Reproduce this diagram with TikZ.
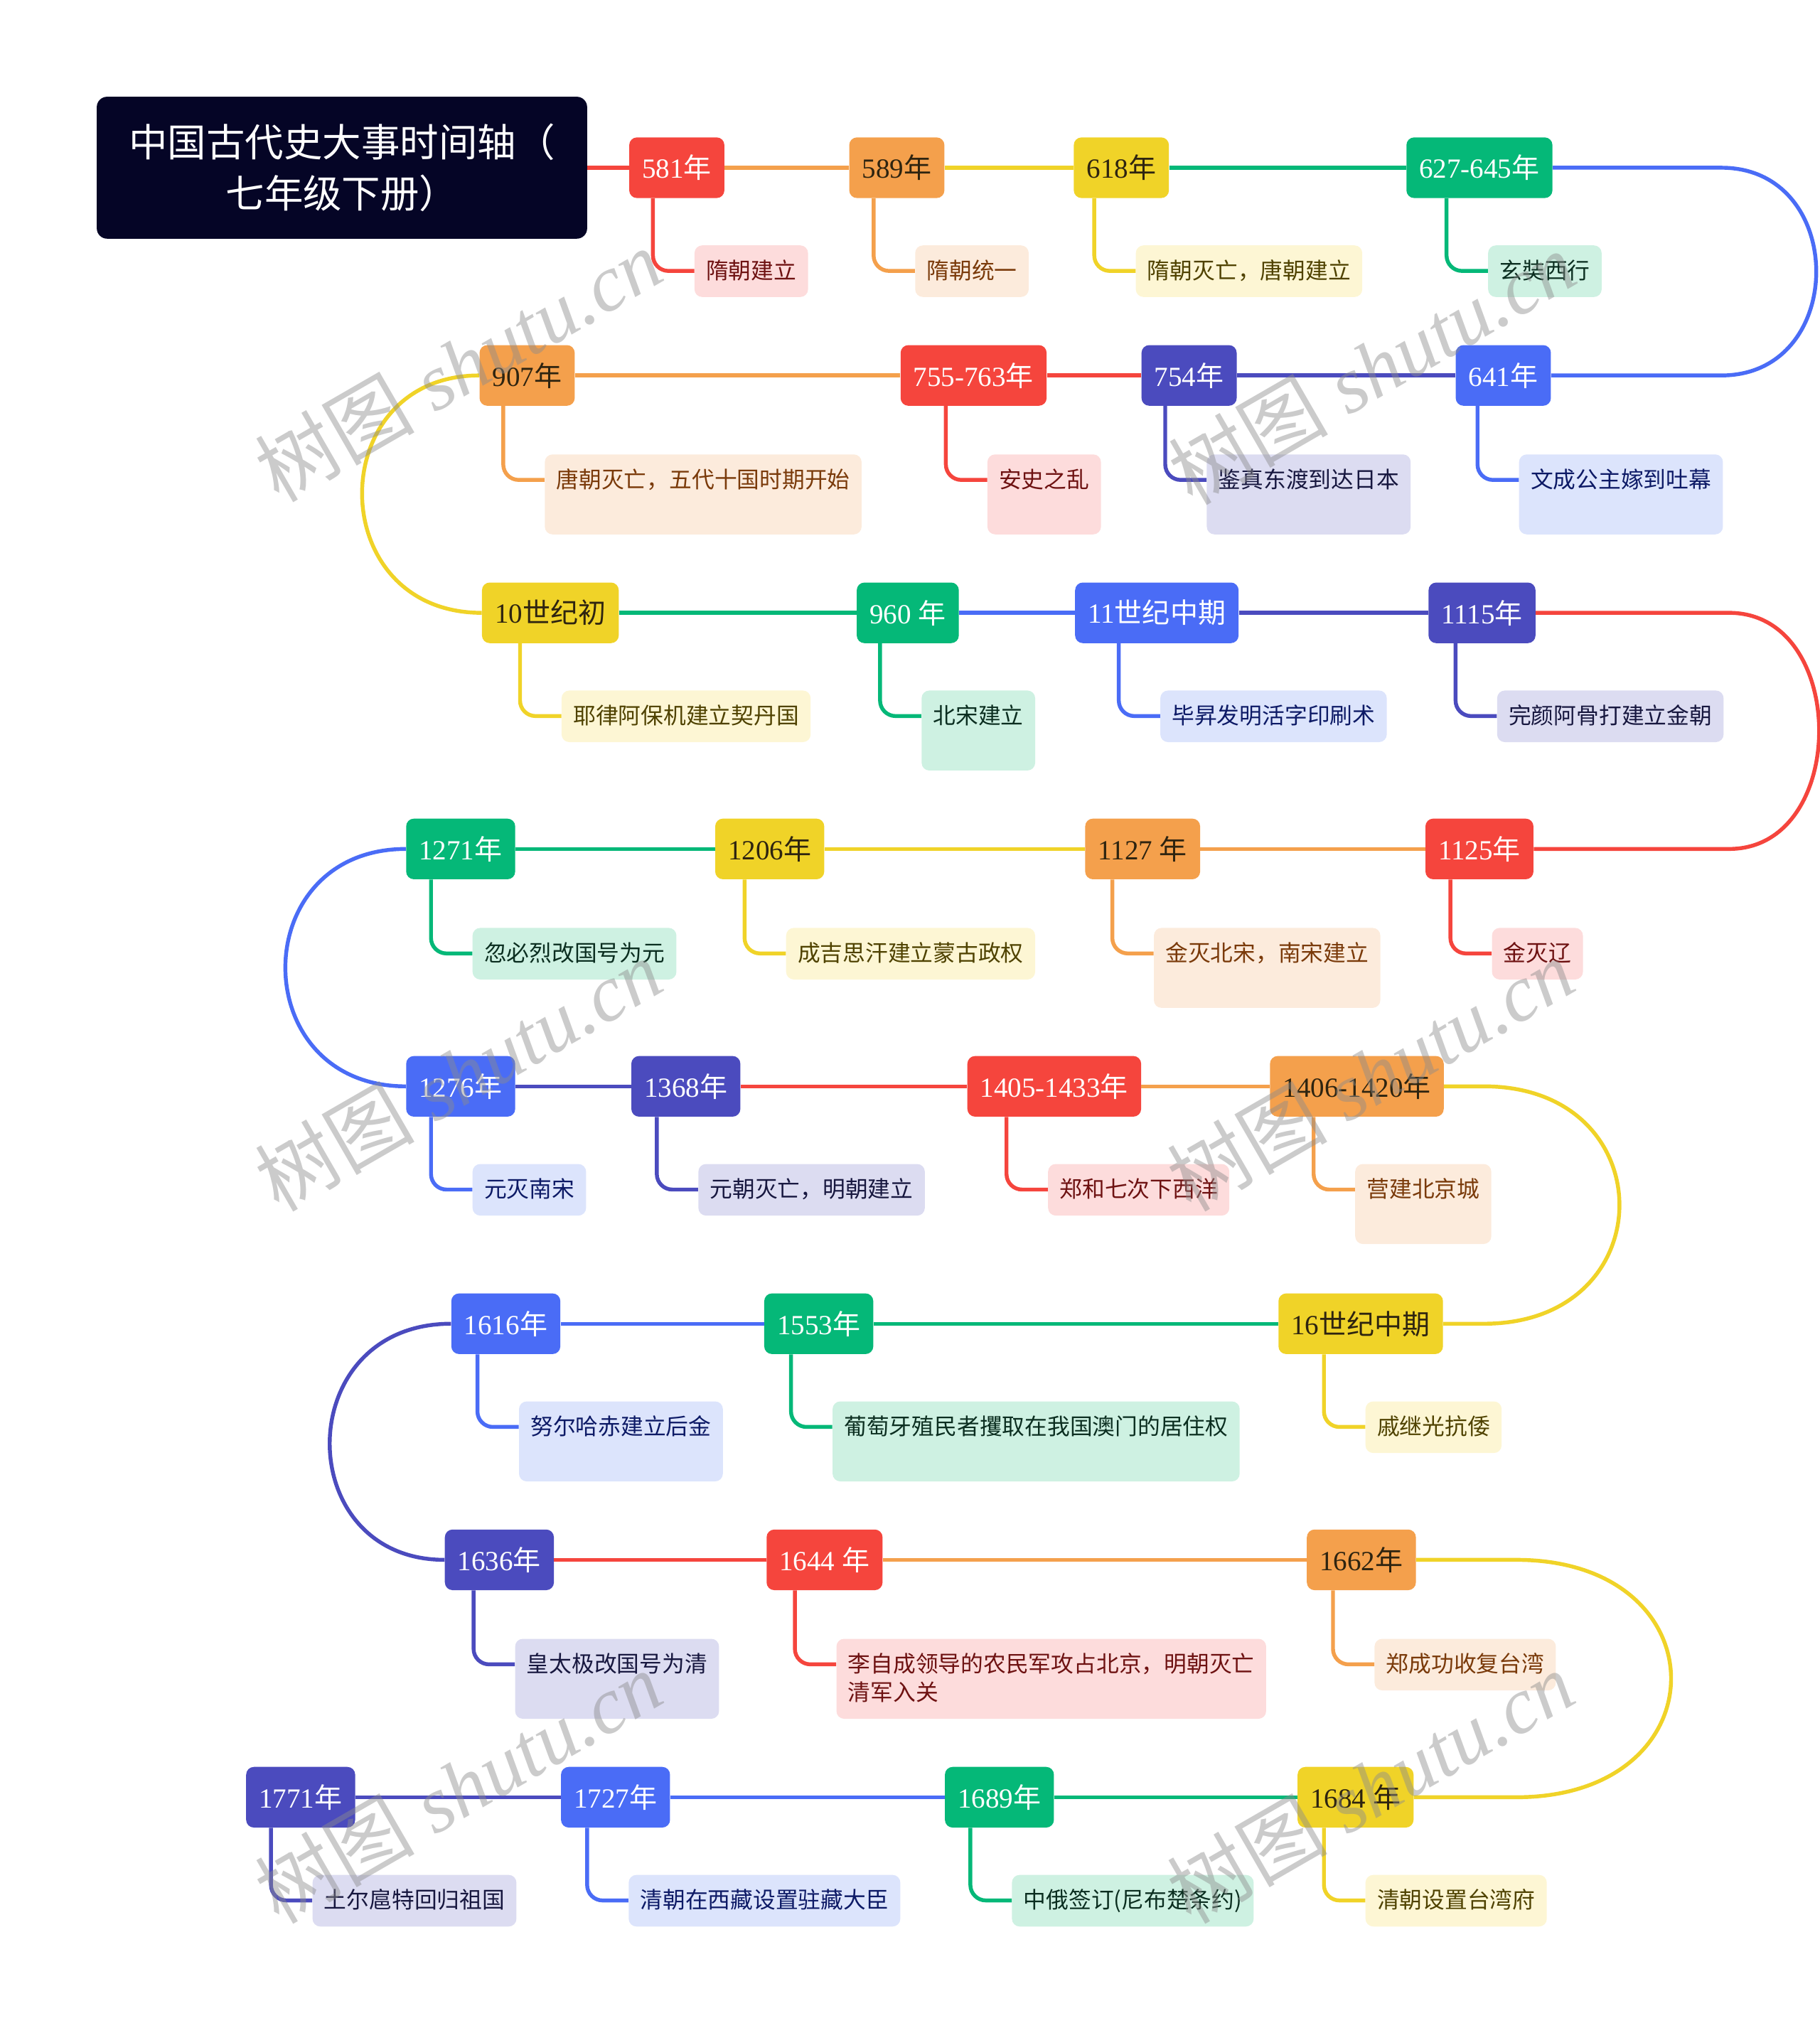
\documentclass[tikz,border=0pt]{standalone}
\usepackage{fontspec}
\setmainfont{Liberation Serif}
\newfontfamily\cjk{Noto Sans CJK SC}
\definecolor{titlenavy}{HTML}{050526}
\definecolor{tlred}{HTML}{F5453D}
\definecolor{tlorange}{HTML}{F4A04C}
\definecolor{tlyellow}{HTML}{F0D328}
\definecolor{tlgreen}{HTML}{05B878}
\definecolor{tlblue}{HTML}{4A6CF6}
\definecolor{tlindigo}{HTML}{4B4BBE}
\definecolor{bgred}{HTML}{FDDCDC}
\definecolor{bgorange}{HTML}{FCEBDC}
\definecolor{bgyellow}{HTML}{FDF6D4}
\definecolor{bggreen}{HTML}{CEF1E2}
\definecolor{bgblue}{HTML}{DCE4FC}
\definecolor{bgindigo}{HTML}{DCDCF1}
\definecolor{txred}{HTML}{6E1212}
\definecolor{txorange}{HTML}{7A3A0A}
\definecolor{txyellow}{HTML}{4F4200}
\definecolor{txgreen}{HTML}{0B2E20}
\definecolor{txblue}{HTML}{0D1A66}
\definecolor{txindigo}{HTML}{17173F}
\definecolor{darkyear}{HTML}{2E2410}

\begin{document}
\begin{tikzpicture}[x=1pt, y=-1pt,
  year/.style={rounded corners=6pt, minimum height=47pt, inner xsep=10pt, inner ysep=0pt, font=\fontsize{21.5}{24}\selectfont},
  yred/.style={year, fill=tlred, text=white},
  yorange/.style={year, fill=tlorange, text=darkyear},
  yyellow/.style={year, fill=tlyellow, text=darkyear},
  ygreen/.style={year, fill=tlgreen, text=white},
  yblue/.style={year, fill=tlblue, text=white},
  yindigo/.style={year, fill=tlindigo, text=white},
  event/.style={anchor=north west, rounded corners=6pt, inner xsep=9pt, inner ysep=0pt, text height=26pt, text depth=14pt, align=left, font=\cjk\fontsize{17.5}{22}\selectfont},
  ered/.style={event, fill=bgred, text=txred},
  eorange/.style={event, fill=bgorange, text=txorange},
  eyellow/.style={event, fill=bgyellow, text=txyellow},
  egreen/.style={event, fill=bggreen, text=txgreen},
  eblue/.style={event, fill=bgblue, text=txblue},
  eindigo/.style={event, fill=bgindigo, text=txindigo},
  tall/.style={text depth=36pt},
  twoline/.style={text height=48pt, text depth=14pt},
  link/.style={line width=3pt},
  branch/.style={line width=3pt, rounded corners=12pt},
  wmark/.style={rotate=30, text=black!45, opacity=0.45, font=\fontsize{62}{62}\selectfont}]
  \useasboundingbox (0,0) rectangle (1410,1568);

  % title
  \node[rounded corners=8pt, fill=titlenavy, text=white, minimum width=380pt, minimum height=110pt, align=center, font=\cjk\fontsize{30}{40}\selectfont] (title) at (265,130) {中国古代史大事时间轴（\\七年级下册）};

  % row 1
  \node[yred] (n581) at (524.5,130) {581{\cjk 年}};
  \node[yorange] (n589) at (695,130) {589{\cjk 年}};
  \node[yyellow] (n618) at (869,130) {618{\cjk 年}};
  \node[ygreen] (n627) at (1146.5,130) {627-645{\cjk 年}};
  \node[ered] (d581) at (538,190) {隋朝建立};
  \node[eorange] (d589) at (709,190) {隋朝统一};
  \node[eyellow] (d618) at (880,190) {隋朝灭亡，唐朝建立};
  \node[egreen] (d627) at (1153,190) {玄奘西行};

  % row 2
  \node[yorange] (n907) at (408.5,291) {907{\cjk 年}};
  \node[yred] (n755) at (754.5,291) {755-763{\cjk 年}};
  \node[yindigo] (n754) at (921.5,291) {754{\cjk 年}};
  \node[yblue] (n641) at (1165,291) {641{\cjk 年}};
  \node[eorange, tall] (d907) at (422,352) {唐朝灭亡，五代十国时期开始};
  \node[ered, tall] (d755) at (765,352) {安史之乱};
  \node[eindigo, tall] (d754) at (935,352) {鉴真东渡到达日本};
  \node[eblue, tall] (d641) at (1177,352) {文成公主嫁到吐幕};

  % row 3
  \node[yyellow] (n10c) at (426.5,475) {10{\cjk 世纪初}};
  \node[ygreen] (n960) at (703.5,475) {960 {\cjk 年}};
  \node[yblue] (n11c) at (896.5,475) {11{\cjk 世纪中期}};
  \node[yindigo] (n1115) at (1148.5,475) {1115{\cjk 年}};
  \node[eyellow] (d10c) at (435,535) {耶律阿保机建立契丹国};
  \node[egreen, tall] (d960) at (714,535) {北宋建立};
  \node[eblue] (d11c) at (899,535) {毕昇发明活字印刷术};
  \node[eindigo] (d1115) at (1160,535) {完颜阿骨打建立金朝};

  % row 4
  \node[ygreen] (n1271) at (357,658) {1271{\cjk 年}};
  \node[yyellow] (n1206) at (596.5,658) {1206{\cjk 年}};
  \node[yorange] (n1127) at (885.5,658) {1127 {\cjk 年}};
  \node[yred] (n1125) at (1146.5,658) {1125{\cjk 年}};
  \node[egreen] (d1271) at (366,719) {忽必烈改国号为元};
  \node[eyellow] (d1206) at (609,719) {成吉思汗建立蒙古政权};
  \node[eorange, tall] (d1127) at (894,719) {金灭北宋，南宋建立};
  \node[ered] (d1125) at (1156,719) {金灭辽};

  % row 5
  \node[yblue] (n1276) at (357,842) {1276{\cjk 年}};
  \node[yindigo] (n1368) at (531.5,842) {1368{\cjk 年}};
  \node[yred] (n1405) at (817,842) {1405-1433{\cjk 年}};
  \node[yorange] (n1406) at (1051.5,842) {1406-1420{\cjk 年}};
  \node[eblue] (d1276) at (366,902) {元灭南宋};
  \node[eindigo] (d1368) at (541,902) {元朝灭亡，明朝建立};
  \node[ered] (d1405) at (812,902) {郑和七次下西洋};
  \node[eorange, tall] (d1406) at (1050,902) {营建北京城};

  % row 6
  \node[yblue] (n1616) at (392,1026) {1616{\cjk 年}};
  \node[ygreen] (n1553) at (634.5,1026) {1553{\cjk 年}};
  \node[yyellow] (n16c) at (1054.5,1026) {16{\cjk 世纪中期}};
  \node[eblue, tall] (d1616) at (402,1086) {努尔哈赤建立后金};
  \node[egreen, tall] (d1553) at (645,1086) {葡萄牙殖民者攫取在我国澳门的居住权};
  \node[eyellow] (d16c) at (1058,1086) {戚继光抗倭};

  % row 7
  \node[yindigo] (n1636) at (387,1209) {1636{\cjk 年}};
  \node[yred] (n1644) at (639,1209) {1644 {\cjk 年}};
  \node[yorange] (n1662) at (1055,1209) {1662{\cjk 年}};
  \node[eindigo, tall] (d1636) at (399,1270) {皇太极改国号为清};
  \node[ered, twoline] (d1644) at (648,1270) {李自成领导的农民军攻占北京，明朝灭亡\\清军入关};
  \node[eorange] (d1662) at (1065,1270) {郑成功收复台湾};

  % row 8
  \node[yindigo] (n1771) at (233,1393) {1771{\cjk 年}};
  \node[yblue] (n1727) at (477,1393) {1727{\cjk 年}};
  \node[ygreen] (n1689) at (774.5,1393) {1689{\cjk 年}};
  \node[yyellow] (n1684) at (1050.5,1393) {1684 {\cjk 年}};
  \node[eindigo] (d1771) at (242,1453) {土尔扈特回归祖国};
  \node[eblue] (d1727) at (487,1453) {清朝在西藏设置驻藏大臣};
  \node[egreen] (d1689) at (784,1453) {中俄签订(尼布楚条约)};
  \node[eyellow] (d1684) at (1058,1453) {清朝设置台湾府};

  % timeline, coloured like the node it runs into
  \draw[link, tlred] (title.east) -- (n581.west);
  \draw[link, tlorange] (n581.east) -- (n589.west);
  \draw[link, tlyellow] (n589.east) -- (n618.west);
  \draw[link, tlgreen] (n618.east) -- (n627.west);
  \draw[link, tlblue] (n627.east) -- (1334,130) .. controls (1432,130) and (1432,291) .. (1334,291) -- (n641.east);
  \draw[link, tlindigo] (n641.west) -- (n754.east);
  \draw[link, tlred] (n754.west) -- (n755.east);
  \draw[link, tlorange] (n755.west) -- (n907.east);
  \draw[link, tlyellow] (n907.west) .. controls (250,291) and (250,475) .. (n10c.west);
  \draw[link, tlgreen] (n10c.east) -- (n960.west);
  \draw[link, tlblue] (n960.east) -- (n11c.west);
  \draw[link, tlindigo] (n11c.east) -- (n1115.west);
  \draw[link, tlred] (n1115.east) -- (1340,475) .. controls (1433,475) and (1433,658) .. (1340,658) -- (n1125.east);
  \draw[link, tlorange] (n1125.west) -- (n1127.east);
  \draw[link, tlyellow] (n1127.west) -- (n1206.east);
  \draw[link, tlgreen] (n1206.west) -- (n1271.east);
  \draw[link, tlblue] (n1271.west) .. controls (190,658) and (190,842) .. (n1276.west);
  \draw[link, tlindigo] (n1276.east) -- (n1368.west);
  \draw[link, tlred] (n1368.east) -- (n1405.west);
  \draw[link, tlorange] (n1405.east) -- (n1406.west);
  \draw[link, tlyellow] (n1406.east) -- (1150,842) .. controls (1290,842) and (1290,1026) .. (1150,1026) -- (n16c.east);
  \draw[link, tlgreen] (n16c.west) -- (n1553.east);
  \draw[link, tlblue] (n1553.west) -- (n1616.east);
  \draw[link, tlindigo] (n1616.west) .. controls (225,1026) and (225,1209) .. (n1636.west);
  \draw[link, tlred] (n1636.east) -- (n1644.west);
  \draw[link, tlorange] (n1644.east) -- (n1662.west);
  \draw[link, tlyellow] (n1662.east) -- (1175,1209) .. controls (1335,1209) and (1335,1393) .. (1175,1393) -- (n1684.east);
  \draw[link, tlgreen] (n1684.west) -- (n1689.east);
  \draw[link, tlblue] (n1689.west) -- (n1727.east);
  \draw[link, tlindigo] (n1727.west) -- (n1771.east);

  % branches down to the events
  \draw[branch, tlred] (n581.south -| d581.west) ++(-32,0) |- ([yshift=-20pt]d581.north west);
  \draw[branch, tlorange] (n589.south -| d589.west) ++(-32,0) |- ([yshift=-20pt]d589.north west);
  \draw[branch, tlyellow] (n618.south -| d618.west) ++(-32,0) |- ([yshift=-20pt]d618.north west);
  \draw[branch, tlgreen] (n627.south -| d627.west) ++(-32,0) |- ([yshift=-20pt]d627.north west);
  \draw[branch, tlorange] (n907.south -| d907.west) ++(-32,0) |- ([yshift=-20pt]d907.north west);
  \draw[branch, tlred] (n755.south -| d755.west) ++(-32,0) |- ([yshift=-20pt]d755.north west);
  \draw[branch, tlindigo] (n754.south -| d754.west) ++(-32,0) |- ([yshift=-20pt]d754.north west);
  \draw[branch, tlblue] (n641.south -| d641.west) ++(-32,0) |- ([yshift=-20pt]d641.north west);
  \draw[branch, tlyellow] (n10c.south -| d10c.west) ++(-32,0) |- ([yshift=-20pt]d10c.north west);
  \draw[branch, tlgreen] (n960.south -| d960.west) ++(-32,0) |- ([yshift=-20pt]d960.north west);
  \draw[branch, tlblue] (n11c.south -| d11c.west) ++(-32,0) |- ([yshift=-20pt]d11c.north west);
  \draw[branch, tlindigo] (n1115.south -| d1115.west) ++(-32,0) |- ([yshift=-20pt]d1115.north west);
  \draw[branch, tlgreen] (n1271.south -| d1271.west) ++(-32,0) |- ([yshift=-20pt]d1271.north west);
  \draw[branch, tlyellow] (n1206.south -| d1206.west) ++(-32,0) |- ([yshift=-20pt]d1206.north west);
  \draw[branch, tlorange] (n1127.south -| d1127.west) ++(-32,0) |- ([yshift=-20pt]d1127.north west);
  \draw[branch, tlred] (n1125.south -| d1125.west) ++(-32,0) |- ([yshift=-20pt]d1125.north west);
  \draw[branch, tlblue] (n1276.south -| d1276.west) ++(-32,0) |- ([yshift=-20pt]d1276.north west);
  \draw[branch, tlindigo] (n1368.south -| d1368.west) ++(-32,0) |- ([yshift=-20pt]d1368.north west);
  \draw[branch, tlred] (n1405.south -| d1405.west) ++(-32,0) |- ([yshift=-20pt]d1405.north west);
  \draw[branch, tlorange] (n1406.south -| d1406.west) ++(-32,0) |- ([yshift=-20pt]d1406.north west);
  \draw[branch, tlblue] (n1616.south -| d1616.west) ++(-32,0) |- ([yshift=-20pt]d1616.north west);
  \draw[branch, tlgreen] (n1553.south -| d1553.west) ++(-32,0) |- ([yshift=-20pt]d1553.north west);
  \draw[branch, tlyellow] (n16c.south -| d16c.west) ++(-32,0) |- ([yshift=-20pt]d16c.north west);
  \draw[branch, tlindigo] (n1636.south -| d1636.west) ++(-32,0) |- ([yshift=-20pt]d1636.north west);
  \draw[branch, tlred] (n1644.south -| d1644.west) ++(-32,0) |- ([yshift=-20pt]d1644.north west);
  \draw[branch, tlorange] (n1662.south -| d1662.west) ++(-32,0) |- ([yshift=-20pt]d1662.north west);
  \draw[branch, tlindigo] (n1771.south -| d1771.west) ++(-32,0) |- ([yshift=-20pt]d1771.north west);
  \draw[branch, tlblue] (n1727.south -| d1727.west) ++(-32,0) |- ([yshift=-20pt]d1727.north west);
  \draw[branch, tlgreen] (n1689.south -| d1689.west) ++(-32,0) |- ([yshift=-20pt]d1689.north west);
  \draw[branch, tlyellow] (n1684.south -| d1684.west) ++(-32,0) |- ([yshift=-20pt]d1684.north west);

  % watermark
  \node[wmark] (wm1) at (355,283) {{\cjk 树图} \textit{shutu.cn}};
  \node[wmark] (wm2) at (1063,285) {{\cjk 树图} \textit{shutu.cn}};
  \node[wmark] (wm3) at (355,833) {{\cjk 树图} \textit{shutu.cn}};
  \node[wmark] (wm4) at (1062,833) {{\cjk 树图} \textit{shutu.cn}};
  \node[wmark] (wm5) at (355,1385) {{\cjk 树图} \textit{shutu.cn}};
  \node[wmark] (wm6) at (1062,1385) {{\cjk 树图} \textit{shutu.cn}};
\end{tikzpicture}
\end{document}
